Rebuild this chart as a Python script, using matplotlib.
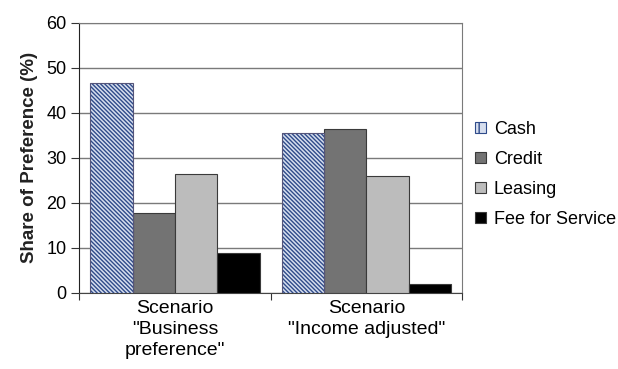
import matplotlib

matplotlib.use("Agg")
import matplotlib.pyplot as plt
from matplotlib.patches import Patch

plt.rcParams["font.family"] = ["Liberation Sans", "DejaVu Sans"]
plt.rcParams["hatch.linewidth"] = 1.0

scenarios = ['Scenario\n"Business\npreference"', 'Scenario\n"Income adjusted"']
series = ["Cash", "Credit", "Leasing", "Fee for Service"]
cash = [46.6, 35.5]
credit = [17.8, 36.4]
leasing = [26.5, 26.0]
fee = [8.8, 1.9]

colors = ["#d6deee", "#737373", "#bcbcbc", "#000000"]
hatch_color = "#2f4b8a"

fig = plt.figure(figsize=(6.18, 3.69), dpi=100)
ax = fig.add_axes([0.128, 0.206, 0.62, 0.732])

width = 0.221
values = [cash, credit, leasing, fee]
for i, (name, vals) in enumerate(zip(series, values)):
    xs = [k + (i - 1.5) * width for k in range(len(scenarios))]
    if i == 0:
        # dense diagonal stripes, then a thin outline on top
        ax.bar(xs, vals, width=width, color=colors[i], edgecolor=hatch_color,
               hatch="\\" * 8, linewidth=0, zorder=3)
        ax.bar(xs, vals, width=width, color="none", edgecolor="#55557a",
               linewidth=0.8, zorder=4)
    else:
        ax.bar(xs, vals, width=width, color=colors[i], edgecolor="#3a3a3a",
               linewidth=0.8, zorder=3)

ax.set_xlim(-0.5, 1.5)
ax.set_ylim(0, 60)
ax.set_yticks(range(0, 61, 10))
ax.yaxis.grid(True, color="#7a7a7a", linewidth=1.0, zorder=0)
ax.set_axisbelow(True)

ax.set_xticks([-0.5, 0.5, 1.5])
ax.set_xticklabels([])
ax.set_xticks([0, 1], minor=True)
ax.set_xticklabels(scenarios, minor=True, fontsize=14, linespacing=1.3)
ax.tick_params(axis="x", which="minor", length=0, pad=5)
ax.tick_params(axis="x", which="major", length=5, color="#333333")
ax.tick_params(axis="y", length=6, labelsize=13, color="#333333", pad=3)

for side in ["top", "right"]:
    ax.spines[side].set_color("#7a7a7a")
ax.spines["left"].set_color("#222222")
ax.spines["bottom"].set_color("#444444")

ax.set_ylabel("Share of Preference (%)", fontsize=13.5, fontweight="bold",
              color="#222222", labelpad=6)

handles = [Patch(facecolor=colors[i], edgecolor="#3a3a3a" if i else hatch_color,
                 hatch="||" if i == 0 else None, linewidth=0.8)
           for i in range(len(series))]
ax.legend(handles, series, loc="center left", bbox_to_anchor=(1.0, 0.44),
          frameon=False, fontsize=13, handlelength=0.6, handleheight=0.6,
          handletextpad=0.45, labelspacing=0.72, borderaxespad=0.3)

fig.savefig("out.png", dpi=100)
